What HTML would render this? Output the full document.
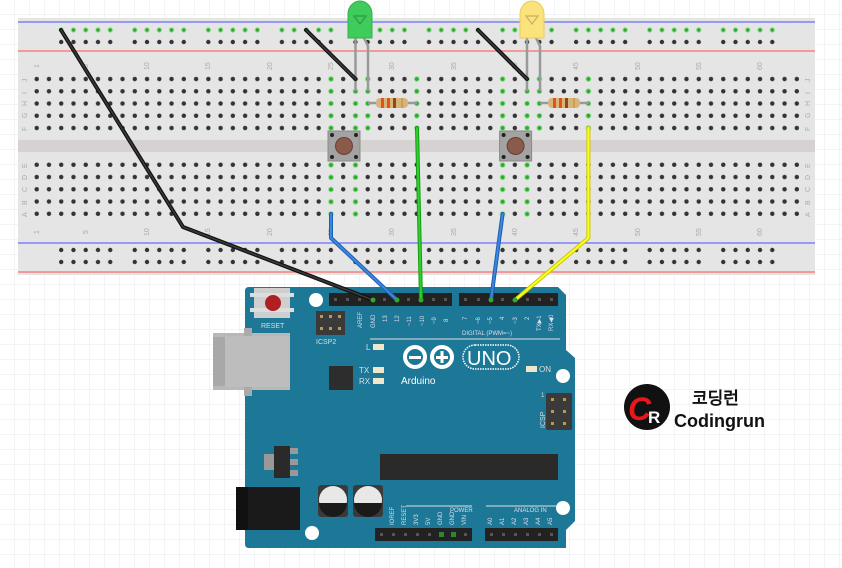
<!DOCTYPE html>
<html><head><meta charset="utf-8"><style>
html,body{margin:0;padding:0;background:#fff;}
svg{display:block;}
text{font-family:"Liberation Sans","DejaVu Sans",sans-serif;}
</style></head><body>
<svg width="842" height="568" viewBox="0 0 842 568" xmlns="http://www.w3.org/2000/svg">
<defs>
<pattern id="grid" patternUnits="userSpaceOnUse" width="15" height="15"><path d="M15 0V15H0" fill="none" stroke="#e6eaf0" stroke-width="1"/></pattern>
<pattern id="main" patternUnits="userSpaceOnUse" x="30.57" y="72.9" width="12.26" height="12.25"><circle cx="6.13" cy="6.13" r="2.2" fill="#333"/></pattern>
<pattern id="railk" patternUnits="userSpaceOnUse" x="55.07" y="36" width="73.56" height="12"><g fill="#333"><circle cx="6.13" cy="6" r="2.2"/><circle cx="18.39" cy="6" r="2.2"/><circle cx="30.65" cy="6" r="2.2"/><circle cx="42.91" cy="6" r="2.2"/><circle cx="55.17" cy="6" r="2.2"/></g></pattern>
<pattern id="railg" patternUnits="userSpaceOnUse" x="55.07" y="24" width="73.56" height="12"><g fill="#2faa2f" stroke="#8fe08f" stroke-width="1"><circle cx="6.13" cy="6" r="2.2"/><circle cx="18.39" cy="6" r="2.2"/><circle cx="30.65" cy="6" r="2.2"/><circle cx="42.91" cy="6" r="2.2"/><circle cx="55.17" cy="6" r="2.2"/></g></pattern>
<pattern id="railb" patternUnits="userSpaceOnUse" x="55.07" y="244" width="73.56" height="12"><g fill="#333"><circle cx="6.13" cy="6" r="2.2"/><circle cx="18.39" cy="6" r="2.2"/><circle cx="30.65" cy="6" r="2.2"/><circle cx="42.91" cy="6" r="2.2"/><circle cx="55.17" cy="6" r="2.2"/></g></pattern>
<g id="gc">
<circle cx="0" cy="79" r="2.4"/><circle cx="0" cy="91.3" r="2.4"/><circle cx="0" cy="103.5" r="2.4"/><circle cx="0" cy="115.8" r="2.4"/><circle cx="0" cy="128" r="2.4"/>
</g>
<g id="gd">
<circle cx="0" cy="165" r="2.4"/><circle cx="0" cy="177.3" r="2.4"/><circle cx="0" cy="189.5" r="2.4"/><circle cx="0" cy="201.8" r="2.4"/><circle cx="0" cy="214" r="2.4"/>
</g>
</defs>
<rect width="842" height="568" fill="#fff"/>
<rect width="842" height="568" fill="url(#grid)"/>

<!-- breadboard -->
<rect x="18" y="18" width="797" height="257" fill="#e5e5e5"/>
<rect x="18" y="140" width="797" height="12" fill="#d6d2d2"/>
<line x1="18" y1="22" x2="815" y2="22" stroke="#6b6bff" stroke-width="1.2"/>
<line x1="18" y1="51" x2="815" y2="51" stroke="#ff6b6b" stroke-width="1.2"/>
<line x1="18" y1="243" x2="815" y2="243" stroke="#6b6bff" stroke-width="1.2"/>
<line x1="18" y1="272" x2="815" y2="272" stroke="#ff6b6b" stroke-width="1.2"/>
<rect x="55" y="24" width="736" height="12" fill="url(#railg)"/>
<rect x="55" y="36" width="736" height="12" fill="url(#railk)"/>
<rect x="55" y="244" width="736" height="24" fill="url(#railb)"/>
<rect x="30.57" y="72.9" width="772.4" height="61.25" fill="url(#main)"/>
<rect x="30.57" y="159" width="772.4" height="61.25" fill="url(#main)"/>
<g fill="#2faa2f" stroke="#8fe08f" stroke-width="1">
<use href="#gc" x="331"/><use href="#gd" x="331"/>
<use href="#gc" x="355.5"/><use href="#gd" x="355.5"/>
<use href="#gc" x="367.8"/>
<use href="#gc" x="416.8"/>
<use href="#gc" x="502.6"/><use href="#gd" x="502.6"/>
<use href="#gc" x="527.1"/><use href="#gd" x="527.1"/>
<use href="#gc" x="539.4"/>
<use href="#gc" x="588.4"/>
</g>
<!-- labels -->
<g fill="#aaa" font-size="7">
<text transform="translate(39,68) rotate(-90)">1</text>
<text transform="translate(88,68) rotate(-90)">5</text>
<text transform="translate(149,70) rotate(-90)">10</text>
<text transform="translate(210,70) rotate(-90)">15</text>
<text transform="translate(272,70) rotate(-90)">20</text>
<text transform="translate(333,70) rotate(-90)">25</text>
<text transform="translate(394,70) rotate(-90)">30</text>
<text transform="translate(456,70) rotate(-90)">35</text>
<text transform="translate(517,70) rotate(-90)">40</text>
<text transform="translate(578,70) rotate(-90)">45</text>
<text transform="translate(640,70) rotate(-90)">50</text>
<text transform="translate(701,70) rotate(-90)">55</text>
<text transform="translate(762,70) rotate(-90)">60</text>
<text transform="translate(39,234) rotate(-90)">1</text>
<text transform="translate(88,234) rotate(-90)">5</text>
<text transform="translate(149,236) rotate(-90)">10</text>
<text transform="translate(210,236) rotate(-90)">15</text>
<text transform="translate(272,236) rotate(-90)">20</text>
<text transform="translate(333,236) rotate(-90)">25</text>
<text transform="translate(394,236) rotate(-90)">30</text>
<text transform="translate(456,236) rotate(-90)">35</text>
<text transform="translate(517,236) rotate(-90)">40</text>
<text transform="translate(578,236) rotate(-90)">45</text>
<text transform="translate(640,236) rotate(-90)">50</text>
<text transform="translate(701,236) rotate(-90)">55</text>
<text transform="translate(762,236) rotate(-90)">60</text>
</g>
<g fill="#aaa" font-size="7">
<text transform="translate(27,82) rotate(-90)">J</text><text transform="translate(27,94) rotate(-90)">I</text><text transform="translate(27,106) rotate(-90)">H</text><text transform="translate(27,118) rotate(-90)">G</text><text transform="translate(27,131) rotate(-90)">F</text>
<text transform="translate(27,168) rotate(-90)">E</text><text transform="translate(27,180) rotate(-90)">D</text><text transform="translate(27,192) rotate(-90)">C</text><text transform="translate(27,205) rotate(-90)">B</text><text transform="translate(27,217) rotate(-90)">A</text>
<text transform="translate(810,82) rotate(-90)">J</text><text transform="translate(810,94) rotate(-90)">I</text><text transform="translate(810,106) rotate(-90)">H</text><text transform="translate(810,118) rotate(-90)">G</text><text transform="translate(810,131) rotate(-90)">F</text>
<text transform="translate(810,168) rotate(-90)">E</text><text transform="translate(810,180) rotate(-90)">D</text><text transform="translate(810,192) rotate(-90)">C</text><text transform="translate(810,205) rotate(-90)">B</text><text transform="translate(810,217) rotate(-90)">A</text>
</g>

<!-- buttons -->
<g>
<rect x="328" y="131" width="32" height="30" fill="#a3a3a3" stroke="#8a8a8a"/>
<circle cx="344" cy="146" r="8.5" fill="#8a5a4a" stroke="#6a4035"/>
<g fill="#222"><circle cx="332" cy="135" r="2"/><circle cx="356" cy="135" r="2"/><circle cx="332" cy="157" r="2"/><circle cx="356" cy="157" r="2"/></g>
</g>
<g transform="translate(171.6,0)">
<rect x="328" y="131" width="32" height="30" fill="#a3a3a3" stroke="#8a8a8a"/>
<circle cx="344" cy="146" r="8.5" fill="#8a5a4a" stroke="#6a4035"/>
<g fill="#222"><circle cx="332" cy="135" r="2"/><circle cx="356" cy="135" r="2"/><circle cx="332" cy="157" r="2"/><circle cx="356" cy="157" r="2"/></g>
</g>

<!-- LED legs & resistors -->
<g stroke="#999" stroke-width="2.5" fill="none">
<path d="M355.5 38V91"/><path d="M364 38L368 46V91"/>
<path d="M527 38V91"/><path d="M536 38L540 46V91"/>
<path d="M368 103H417"/><path d="M540 103H589"/>
</g>
<g>
<rect x="376" y="98" width="32" height="10" rx="4" fill="#d8b47a"/>
<rect x="381" y="98" width="3" height="10" fill="#e8501a"/><rect x="387" y="98" width="3" height="10" fill="#e8501a"/><rect x="393" y="98" width="3" height="10" fill="#8a4a1a"/><rect x="401" y="98" width="2" height="10" fill="#c8a050"/>
<rect x="548" y="98" width="32" height="10" rx="4" fill="#d8b47a"/>
<rect x="553" y="98" width="3" height="10" fill="#e8501a"/><rect x="559" y="98" width="3" height="10" fill="#e8501a"/><rect x="565" y="98" width="3" height="10" fill="#8a4a1a"/><rect x="573" y="98" width="2" height="10" fill="#c8a050"/>
</g>
<!-- LEDs -->
<path d="M348 38V14a12 13 0 0 1 24 0V38Z" fill="#3fcc5a" stroke="#33b04a"/>
<path d="M354 16h12l-6 8z" fill="none" stroke="#2a9a40" stroke-width="1.2"/>
<path d="M520 38V14a12 13 0 0 1 24 0V38Z" fill="#fbe27a" stroke="#e8cc5a"/>
<path d="M526 16h12l-6 8z" fill="none" stroke="#c8b060" stroke-width="1.2"/>

<!-- Arduino board -->
<path d="M249 287H558L566 295V350L575 358V521L566 530V548H249Q245 548 245 544V291Q245 287 249 287Z" fill="#1c7896"/>
<g fill="#fff"><circle cx="316" cy="300" r="7"/><circle cx="563" cy="376" r="7"/><circle cx="563" cy="508" r="7"/><circle cx="312" cy="533" r="7"/></g>
<rect x="254" y="288" width="36" height="30" fill="#cfcfcf"/>
<rect x="250" y="293" width="44" height="4" fill="#ddd"/><rect x="250" y="308" width="44" height="4" fill="#ddd"/>
<circle cx="273" cy="303" r="8" fill="#b02020"/>
<text x="261" y="328" font-size="7" fill="#ddd">RESET</text>
<rect x="316" y="311" width="29" height="24" fill="#3a3a3a"/>
<g fill="#b89a50"><rect x="320" y="315" width="3" height="3"/><rect x="329" y="315" width="3" height="3"/><rect x="338" y="315" width="3" height="3"/><rect x="320" y="327" width="3" height="3"/><rect x="329" y="327" width="3" height="3"/><rect x="338" y="327" width="3" height="3"/></g>
<text x="316" y="344" font-size="7" fill="#ddd">ICSP2</text>
<rect x="213" y="333" width="77" height="57" fill="#b8b8b8"/>
<rect x="213" y="337" width="12" height="49" fill="#a8a8a8"/>
<rect x="244" y="328" width="8" height="68" fill="#aaa"/>
<rect x="225" y="336" width="65" height="51" fill="#bdbdbd"/>
<rect x="329" y="366" width="24" height="24" fill="#2d2d2d"/>
<g fill="#f0e6cc"><rect x="373" y="344" width="11" height="6"/><rect x="373" y="367" width="11" height="6"/><rect x="373" y="378" width="11" height="6"/><rect x="526" y="366" width="11" height="6"/></g>
<g fill="#ddd" font-size="8" font-family="Liberation Mono,monospace"><text x="366" y="350">L</text><text x="359" y="373">TX</text><text x="359" y="384">RX</text><text x="539" y="372">ON</text></g>
<g fill="none" stroke="#fff" stroke-width="4">
<circle cx="415" cy="357" r="10"/><circle cx="442" cy="357" r="10"/>
</g>
<rect x="409" y="356" width="12" height="3" fill="#fff"/>
<rect x="436" y="356" width="12" height="3" fill="#fff"/><rect x="440.5" y="351" width="3" height="12" fill="#fff"/>
<rect x="463" y="345" width="56" height="24" rx="12" fill="none" stroke="#fff" stroke-width="1.5" stroke-dasharray="1.5 1"/>
<text x="467" y="365" font-size="20" fill="#fff">UNO</text>
<text x="401" y="384" font-size="10" fill="#fff" font-family="Liberation Mono,monospace">Arduino</text>
<rect x="546" y="393" width="26" height="37" rx="2" fill="#3a3a3a"/>
<g fill="#b89a50"><rect x="551" y="398" width="3" height="3"/><rect x="563" y="398" width="3" height="3"/><rect x="551" y="410" width="3" height="3"/><rect x="563" y="410" width="3" height="3"/><rect x="551" y="422" width="3" height="3"/><rect x="563" y="422" width="3" height="3"/></g>
<text transform="translate(545,428) rotate(-90)" font-size="7" fill="#ddd">ICSP</text>
<text x="541" y="397" font-size="6" fill="#ddd">1</text>
<rect x="380" y="454" width="178" height="26" fill="#2a2a2a"/>
<rect x="264" y="454" width="10" height="16" fill="#999"/>
<rect x="274" y="446" width="16" height="32" fill="#2a2a2a"/>
<g fill="#999"><rect x="290" y="448" width="8" height="6"/><rect x="290" y="459" width="8" height="6"/><rect x="290" y="470" width="8" height="6"/></g>
<rect x="236" y="487" width="64" height="43" fill="#1a1a1a"/>
<rect x="236" y="487" width="12" height="43" fill="#111"/>
<rect x="318" y="485" width="30" height="32" rx="3" fill="#3a3a3a"/>
<circle cx="333" cy="500" r="14" fill="#e8e8e8"/><path d="M319 503H347A14 14 0 0 1 319 503Z" fill="#1a1a1a"/>
<rect x="353" y="485" width="30" height="32" rx="3" fill="#3a3a3a"/>
<circle cx="368" cy="500" r="14" fill="#e8e8e8"/><path d="M354 503H382A14 14 0 0 1 354 503Z" fill="#1a1a1a"/>
<rect x="329" y="293" width="123" height="13" fill="#222"/>
<rect x="459" y="293" width="99" height="13" fill="#222"/>
<rect x="375" y="528" width="97" height="13" fill="#222"/>
<rect x="485" y="528" width="73" height="13" fill="#222"/>
<g fill="#555">
<rect x="334" y="298" width="3" height="3"/><rect x="346" y="298" width="3" height="3"/><rect x="358" y="298" width="3" height="3"/><rect x="383" y="298" width="3" height="3"/><rect x="407" y="298" width="3" height="3"/><rect x="432" y="298" width="3" height="3"/><rect x="444" y="298" width="3" height="3"/>
<rect x="464" y="298" width="3" height="3"/><rect x="477" y="298" width="3" height="3"/><rect x="501" y="298" width="3" height="3"/><rect x="526" y="298" width="3" height="3"/><rect x="538" y="298" width="3" height="3"/><rect x="550" y="298" width="3" height="3"/>
<rect x="380" y="533" width="3" height="3"/><rect x="392" y="533" width="3" height="3"/><rect x="404" y="533" width="3" height="3"/><rect x="416" y="533" width="3" height="3"/><rect x="428" y="533" width="3" height="3"/><rect x="464" y="533" width="3" height="3"/>
<rect x="490" y="533" width="3" height="3"/><rect x="502" y="533" width="3" height="3"/><rect x="514" y="533" width="3" height="3"/><rect x="526" y="533" width="3" height="3"/><rect x="538" y="533" width="3" height="3"/><rect x="550" y="533" width="3" height="3"/>
</g>
<g fill="#2a8a2a"><rect x="439" y="532" width="5" height="5"/><rect x="451" y="532" width="5" height="5"/></g>
<line x1="370" y1="339" x2="560" y2="339" stroke="#e0e0e0" stroke-width="1"/>
<line x1="406" y1="506" x2="472" y2="506" stroke="#e0e0e0" stroke-width="1"/>
<line x1="486" y1="506" x2="558" y2="506" stroke="#e0e0e0" stroke-width="1"/>
<g fill="#dde" font-size="6" font-family="Liberation Mono,monospace">
<text x="462" y="335">DIGITAL (PWM=~)</text>
<text x="450" y="512">POWER</text>
<text x="514" y="512">ANALOG IN</text>
<text transform="translate(362,328) rotate(-90)">AREF</text>
<text transform="translate(375,328) rotate(-90)">GND</text>
<text transform="translate(387,322) rotate(-90)">13</text>
<text transform="translate(399,322) rotate(-90)">12</text>
<text transform="translate(411,326) rotate(-90)">~11</text>
<text transform="translate(424,326) rotate(-90)">~10</text>
<text transform="translate(436,324) rotate(-90)">~9</text>
<text transform="translate(448,322) rotate(-90)">8</text>
<text transform="translate(467,320) rotate(-90)">7</text>
<text transform="translate(480,324) rotate(-90)">~6</text>
<text transform="translate(492,324) rotate(-90)">~5</text>
<text transform="translate(504,320) rotate(-90)">4</text>
<text transform="translate(517,324) rotate(-90)">~3</text>
<text transform="translate(529,320) rotate(-90)">2</text>
<text transform="translate(541,331) rotate(-90)">TX▶1</text>
<text transform="translate(553,331) rotate(-90)">RX◀0</text>
<text transform="translate(394,525) rotate(-90)">IOREF</text>
<text transform="translate(406,525) rotate(-90)">RESET</text>
<text transform="translate(418,525) rotate(-90)">3V3</text>
<text transform="translate(430,525) rotate(-90)">5V</text>
<text transform="translate(442,525) rotate(-90)">GND</text>
<text transform="translate(454,525) rotate(-90)">GND</text>
<text transform="translate(466,525) rotate(-90)">VIN</text>
<text transform="translate(492,525) rotate(-90)">A0</text>
<text transform="translate(504,525) rotate(-90)">A1</text>
<text transform="translate(516,525) rotate(-90)">A2</text>
<text transform="translate(528,525) rotate(-90)">A3</text>
<text transform="translate(540,525) rotate(-90)">A4</text>
<text transform="translate(552,525) rotate(-90)">A5</text>
</g>

<!-- wires -->
<g fill="none" stroke-linecap="round" stroke-linejoin="round">
<path d="M61 30L183 227L373 300" stroke="#111" stroke-width="4"/>
<path d="M61 30L183 227L373 300" stroke="#3a3a3a" stroke-width="1.6"/>
<path d="M306 30L355.5 79" stroke="#111" stroke-width="4"/><path d="M306 30L355.5 79" stroke="#3a3a3a" stroke-width="1.6"/>
<path d="M478 30L527 79" stroke="#111" stroke-width="4"/><path d="M478 30L527 79" stroke="#3a3a3a" stroke-width="1.6"/>
<path d="M331 214V238L397 300" stroke="#1a5fb0" stroke-width="4"/><path d="M331 214V238L397 300" stroke="#3f86dd" stroke-width="2"/>
<path d="M502.6 214L491 300" stroke="#1a5fb0" stroke-width="4"/><path d="M502.6 214L491 300" stroke="#3f86dd" stroke-width="2"/>
<path d="M417 128L421 300" stroke="#169a16" stroke-width="4"/><path d="M417 128L421 300" stroke="#2fd02f" stroke-width="2"/>
<path d="M588.4 128V238L515 300" stroke="#c8c800" stroke-width="4"/><path d="M588.4 128V238L515 300" stroke="#ffff20" stroke-width="2"/>
</g>
<g fill="#2faa2f"><circle cx="373" cy="300" r="2.5"/><circle cx="397" cy="300" r="2.5"/><circle cx="421" cy="300" r="2.5"/><circle cx="491" cy="300" r="2.5"/><circle cx="515" cy="300" r="2.5"/></g>

<!-- Codingrun logo -->
<circle cx="647" cy="407" r="23" fill="#111"/>
<text x="628" y="420" font-size="32" font-style="italic" fill="#e81818" font-weight="bold">C</text>
<text x="648" y="423" font-size="17" fill="#fff" font-weight="bold">R</text>
<text x="692" y="404" font-size="17" font-weight="bold" fill="#111" font-family="'Liberation Sans','NanumGothic','Noto Sans CJK KR',sans-serif">코딩런</text>
<text x="674" y="427" font-size="18" font-weight="bold" fill="#111">Codingrun</text>
</svg>
</body></html>
